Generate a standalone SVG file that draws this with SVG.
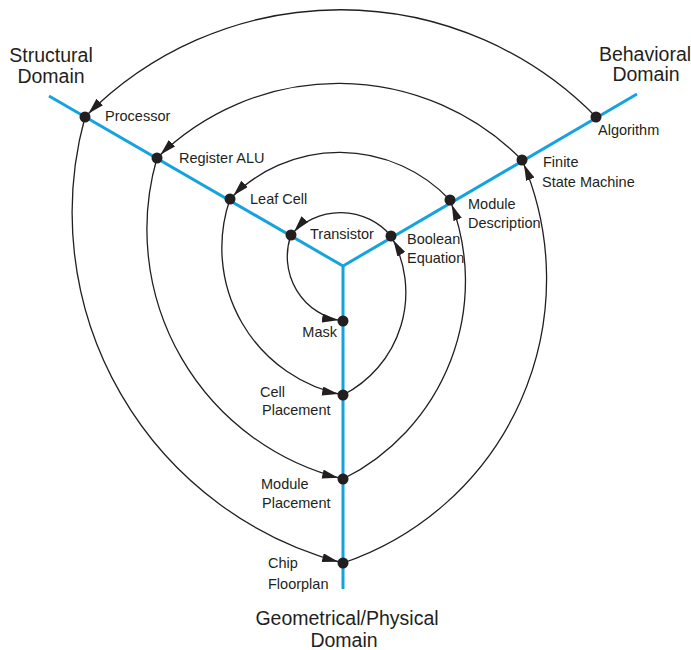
<svg xmlns="http://www.w3.org/2000/svg" width="691" height="650" viewBox="0 0 691 650">
<style>
.axis{stroke:#14a3e0;stroke-width:3;fill:none;stroke-linecap:butt}
.arc{stroke:#231f20;stroke-width:1.3;fill:none;marker-end:url(#ah)}
.dot{fill:#231f20}
.lbl{font-family:"Liberation Sans",Arial,sans-serif;font-size:14.5px;fill:#231f20}
.dom{font-family:"Liberation Sans",Arial,sans-serif;font-size:19.5px;fill:#231f20;text-anchor:middle}
</style>
<defs>
<marker id="ah" markerUnits="userSpaceOnUse" markerWidth="22" markerHeight="10" refX="21" refY="4.5" orient="auto">
<path d="M0,0 L16,4.5 L0,9 z" fill="#231f20"/>
</marker>
</defs>
<rect width="691" height="650" fill="#ffffff"/>
<g id="axes">
<line class="axis" x1="49" y1="96" x2="343" y2="266"/>
<line class="axis" x1="637" y1="94" x2="343" y2="266"/>
<line class="axis" x1="343" y1="266" x2="343" y2="589"/>
</g>
<g id="connectors">
<path class="arc" d="M596,117 A358,358 0 0 0 85,117"/>
<path class="arc" d="M85,117 A362,362 0 0 0 343,563"/>
<path class="arc" d="M343,563 A300,300 0 0 0 522,160"/>
<path class="arc" d="M522,160 A258,258 0 0 0 157,158"/>
<path class="arc" d="M157,158 A257,257 0 0 0 343,479"/>
<path class="arc" d="M343,479 A221,221 0 0 0 450,200"/>
<path class="arc" d="M450,200 A152,152 0 0 0 230,199"/>
<path class="arc" d="M230,199 A150,150 0 0 0 343,395"/>
<path class="arc" d="M343,395 A115,115 0 0 0 391,236"/>
<path class="arc" d="M391,236 A66,66 0 0 0 291,235"/>
<path class="arc" d="M291,235 A65,65 0 0 0 343,321"/>
</g>
<g id="processor"><circle class="dot" cx="85" cy="117" r="5.5"/><text class="lbl" x="105" y="121">Processor</text></g>
<g id="register-alu"><circle class="dot" cx="157" cy="158" r="5.5"/><text class="lbl" x="179" y="163">Register ALU</text></g>
<g id="leaf-cell"><circle class="dot" cx="230" cy="199" r="5.5"/><text class="lbl" x="250" y="204">Leaf Cell</text></g>
<g id="transistor"><circle class="dot" cx="291" cy="235" r="5.5"/><text class="lbl" x="310" y="239">Transistor</text></g>
<g id="boolean-equation"><circle class="dot" cx="391" cy="236" r="5.5"/><text class="lbl" x="407" y="244">Boolean</text><text class="lbl" x="407" y="263">Equation</text></g>
<g id="module-description"><circle class="dot" cx="450" cy="200" r="5.5"/><text class="lbl" x="468" y="209">Module</text><text class="lbl" x="468" y="228">Description</text></g>
<g id="finite-state-machine"><circle class="dot" cx="522" cy="160" r="5.5"/><text class="lbl" x="543" y="167">Finite</text><text class="lbl" x="542" y="187">State Machine</text></g>
<g id="algorithm"><circle class="dot" cx="596" cy="117" r="5.5"/><text class="lbl" x="598" y="135">Algorithm</text></g>
<g id="mask"><circle class="dot" cx="343" cy="321" r="5.5"/><text class="lbl" x="337" y="337" text-anchor="end">Mask</text></g>
<g id="cell-placement"><circle class="dot" cx="343" cy="395" r="5.5"/><text class="lbl" x="260" y="397">Cell</text><text class="lbl" x="262" y="415">Placement</text></g>
<g id="module-placement"><circle class="dot" cx="343" cy="479" r="5.5"/><text class="lbl" x="261" y="489">Module</text><text class="lbl" x="262" y="508">Placement</text></g>
<g id="chip-floorplan"><circle class="dot" cx="343" cy="563" r="5.5"/><text class="lbl" x="268" y="568">Chip</text><text class="lbl" x="268" y="589">Floorplan</text></g>
<g id="structural-domain"><text class="dom" x="51" y="62">Structural</text><text class="dom" x="51" y="83">Domain</text></g>
<g id="behavioral-domain"><text class="dom" x="645" y="61">Behavioral</text><text class="dom" x="646" y="81">Domain</text></g>
<g id="geometrical-domain"><text class="dom" x="347" y="625">Geometrical/Physical</text><text class="dom" x="344" y="647">Domain</text></g>
</svg>
